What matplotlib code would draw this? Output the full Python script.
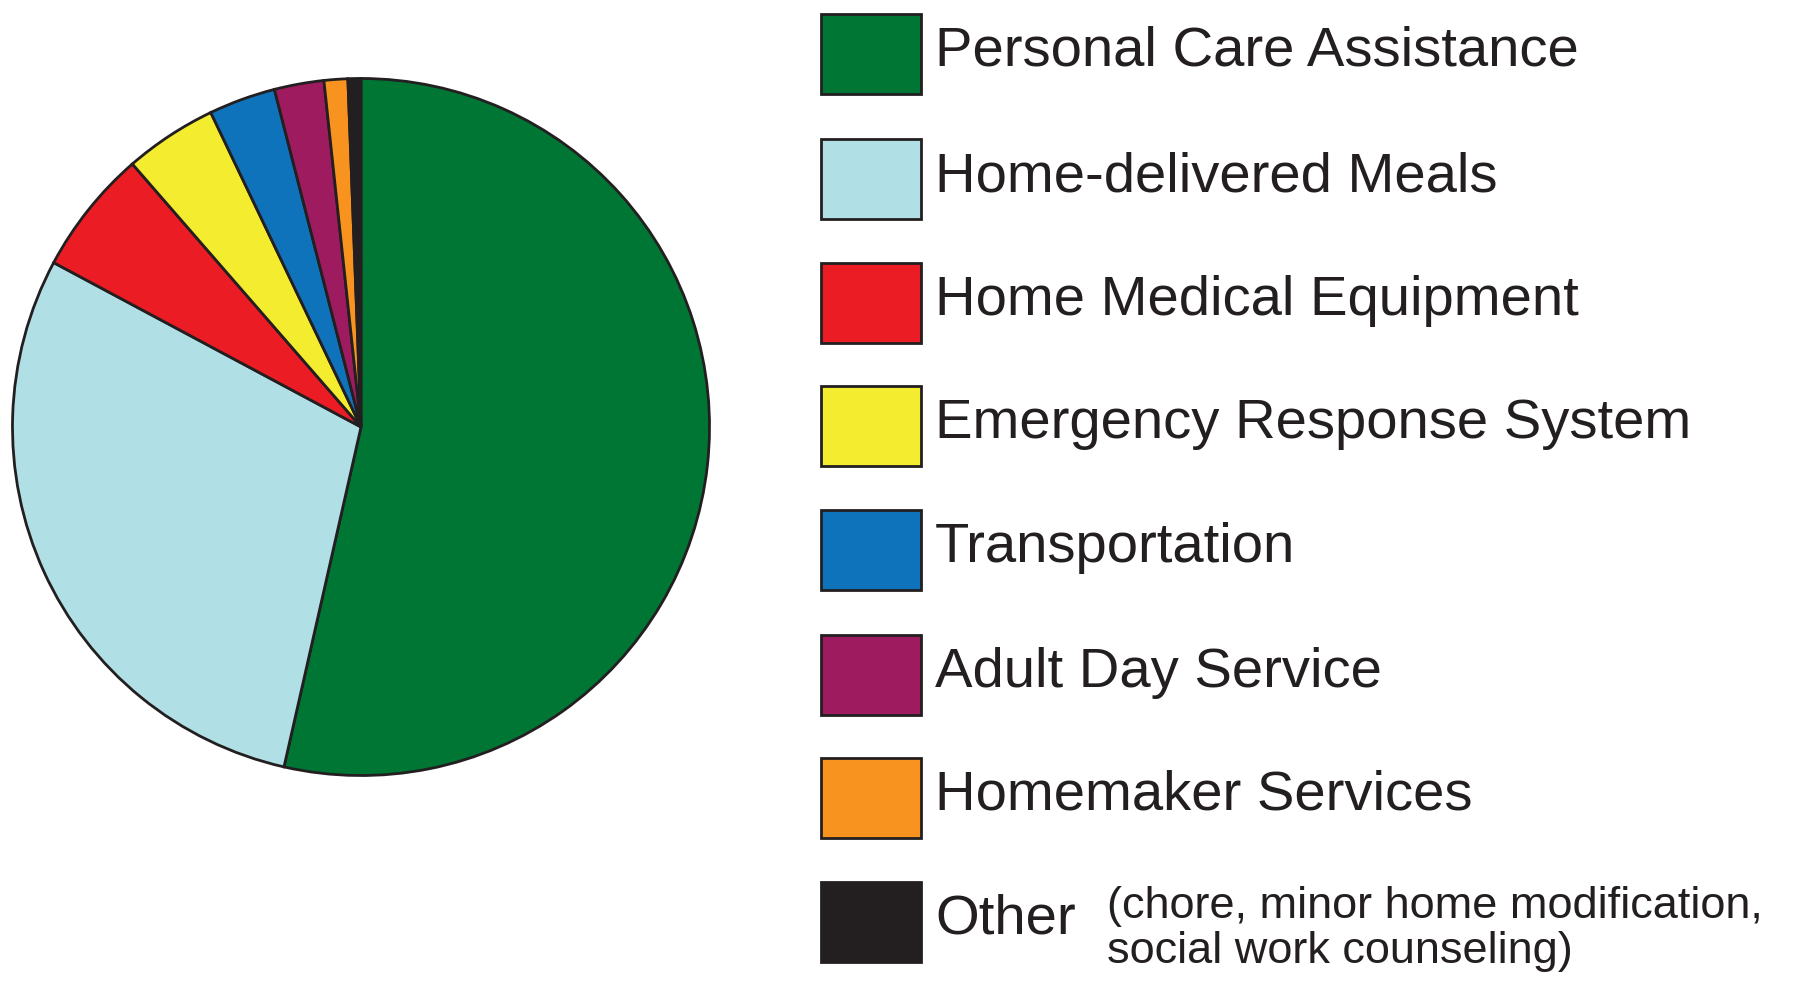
import matplotlib
matplotlib.use('Agg')
from matplotlib import pyplot as plt
from matplotlib.patches import Rectangle

# shares of services (percent), clockwise from 12 o'clock
labels = ['Personal Care Assistance', 'Home-delivered Meals', 'Home Medical Equipment',
          'Emergency Response System', 'Transportation', 'Adult Day Service',
          'Homemaker Services', 'Other']
values = [53.6, 29.3, 5.8, 4.3, 3.1, 2.3, 1.1, 0.6]
colors = ['#007635', '#b0dfe5', '#ec1c24', '#f4ec2f', '#0f73bc', '#9e1b5f', '#f7931e', '#231f20']
other_note = '(chore, minor home modification,\nsocial work counseling)'

W, H = 1796, 981
fig = plt.figure(figsize=(W / 100, H / 100), dpi=100)
fam = ['Liberation Sans Narrow', 'Liberation Sans', 'DejaVu Sans']
ink = '#231f20'

# pie, centre (361, 427) px, radius 352 px
cx, cy, r = 361, 427, 352
ax = fig.add_axes([(cx - r) / W, (H - cy - r) / H, 2 * r / W, 2 * r / H])
ax.pie(values, colors=colors, startangle=90, counterclock=False, radius=1,
       wedgeprops=dict(edgecolor=ink, linewidth=2.0))
ax.set_xlim(-1.01, 1.01), ax.set_ylim(-1.01, 1.01)
ax.axis('off')

# legend drawn in pixel space
lg = fig.add_axes([0, 0, 1, 1])
lg.set_xlim(0, W), lg.set_ylim(H, 0)
lg.axis('off')
row_top = [14, 139, 263, 386, 510, 635, 758, 882]
for top, lab, col in zip(row_top, labels, colors):
    lg.add_patch(Rectangle((821, top), 100, 80, facecolor=col, edgecolor=ink, linewidth=2))
    lg.text(935, top + 38, lab, fontsize=40.5, family=fam, color=ink, va='center', ha='left')
lg.text(1107, 929, other_note, fontsize=32.5, family=fam, color=ink, va='center', ha='left',
        linespacing=1.12)

fig.savefig('out.png', dpi=100)
